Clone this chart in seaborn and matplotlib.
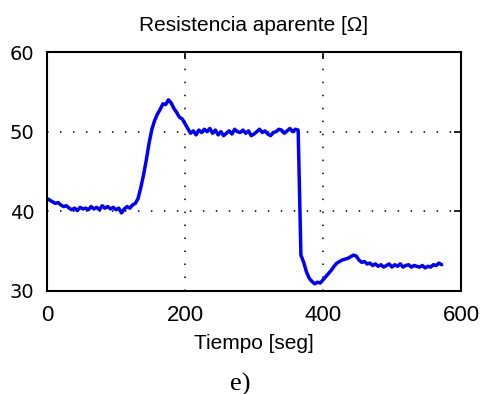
import numpy as np
import pandas as pd
import matplotlib
matplotlib.use("Agg")
import matplotlib.pyplot as plt
import seaborn as sns

sns.set_style("white")
plt.rcParams['font.family'] = ['Liberation Sans', 'DejaVu Sans']
plt.rcParams['text.color'] = 'black'
plt.rcParams['axes.labelcolor'] = 'black'

title = "Resistencia aparente [Ω]"
xlabel = "Tiempo [seg]"
caption = "e)"
xticks = [0, 200, 400, 600]
yticks = [30, 40, 50, 60]

resistance = [
    41.6, 41.4, 41.2, 41.0, 41.1, 40.8, 40.6, 40.7, 40.4, 40.2,
    40.4, 40.1, 40.5, 40.3, 40.4, 40.2, 40.6, 40.3, 40.5, 40.2,
    40.7, 40.4, 40.6, 40.3, 40.5, 40.2, 40.4, 39.8, 40.3, 40.6,
    40.4, 40.8, 41.0, 41.6, 43.0, 44.6, 46.5, 48.6, 50.3, 51.4,
    52.2, 52.8, 53.5, 53.4, 54.0, 53.6, 52.9, 52.4, 51.8, 51.6,
    51.0, 50.4, 49.8, 50.1, 49.6, 50.2, 49.9, 50.3, 50.0, 50.4,
    49.8, 50.2, 49.6, 50.0, 49.5, 49.8, 50.1, 49.7, 50.3, 50.0,
    49.9, 50.2, 49.8, 50.1, 49.5, 49.7, 50.0, 50.3, 49.9, 50.1,
    49.7, 49.5, 49.9, 50.0, 50.3, 50.2, 49.8, 50.1, 50.4, 50.0,
    50.3, 50.2, 34.5, 33.6, 32.4, 31.6, 31.2, 30.9, 31.1, 31.0,
    31.4, 31.8, 32.2, 32.6, 33.1, 33.5, 33.7, 33.9, 34.0, 34.1,
    34.3, 34.5, 34.4, 33.9, 33.6, 33.7, 33.4, 33.5, 33.2, 33.4,
    33.1, 33.3, 33.0, 33.2, 33.4, 33.0, 33.3, 33.1, 33.4, 33.0,
    33.2, 33.3, 33.0, 33.2, 33.1, 33.0, 33.2, 32.9, 33.1, 33.0,
    33.3, 33.2, 33.5, 33.3,
]
time = np.arange(len(resistance)) * 4

df = pd.DataFrame({"t": time, "r": resistance})

fig = plt.figure(figsize=(4.8, 3.94), dpi=100)
ax = fig.add_axes([47/480, 1 - 291/394, (461 - 47)/480, (291 - 52)/394])

sns.lineplot(data=df, x="t", y="r", ax=ax, color="#0000ff", linewidth=2.5)

ax.set_xlim(0, 600)
ax.set_ylim(30, 60)
ax.set_xticks(xticks)
ax.set_yticks(yticks)
ax.set_xticklabels([str(v) for v in xticks], fontsize=16)
ax.set_yticklabels([str(v) for v in yticks], fontsize=14, family='DejaVu Sans')
ax.tick_params(direction='in', length=5, width=1.2, top=True, right=True,
               colors='black', labelcolor='black', pad=9)
ax.tick_params(axis='x', pad=10)
for s in ax.spines.values():
    s.set_color('black')
    s.set_linewidth(1.5)

for xv in [200, 400]:
    ax.axvline(xv, color='black', linewidth=1.1, linestyle=(0, (1, 7.5)), zorder=0)
for yv in [40, 50]:
    ax.axhline(yv, color='black', linewidth=1.1, linestyle=(0, (1, 7.5)), zorder=0)

ax.set_xlabel(xlabel, fontsize=15, labelpad=6, color='black')
ax.set_ylabel("")
ax.set_title(title, fontsize=15, pad=15, color='black')

fig.text(0.5, 1 - 384/394, caption, ha='center', va='center',
         fontsize=19, family='Liberation Serif', color='black')

fig.savefig("out.png", dpi=100)
